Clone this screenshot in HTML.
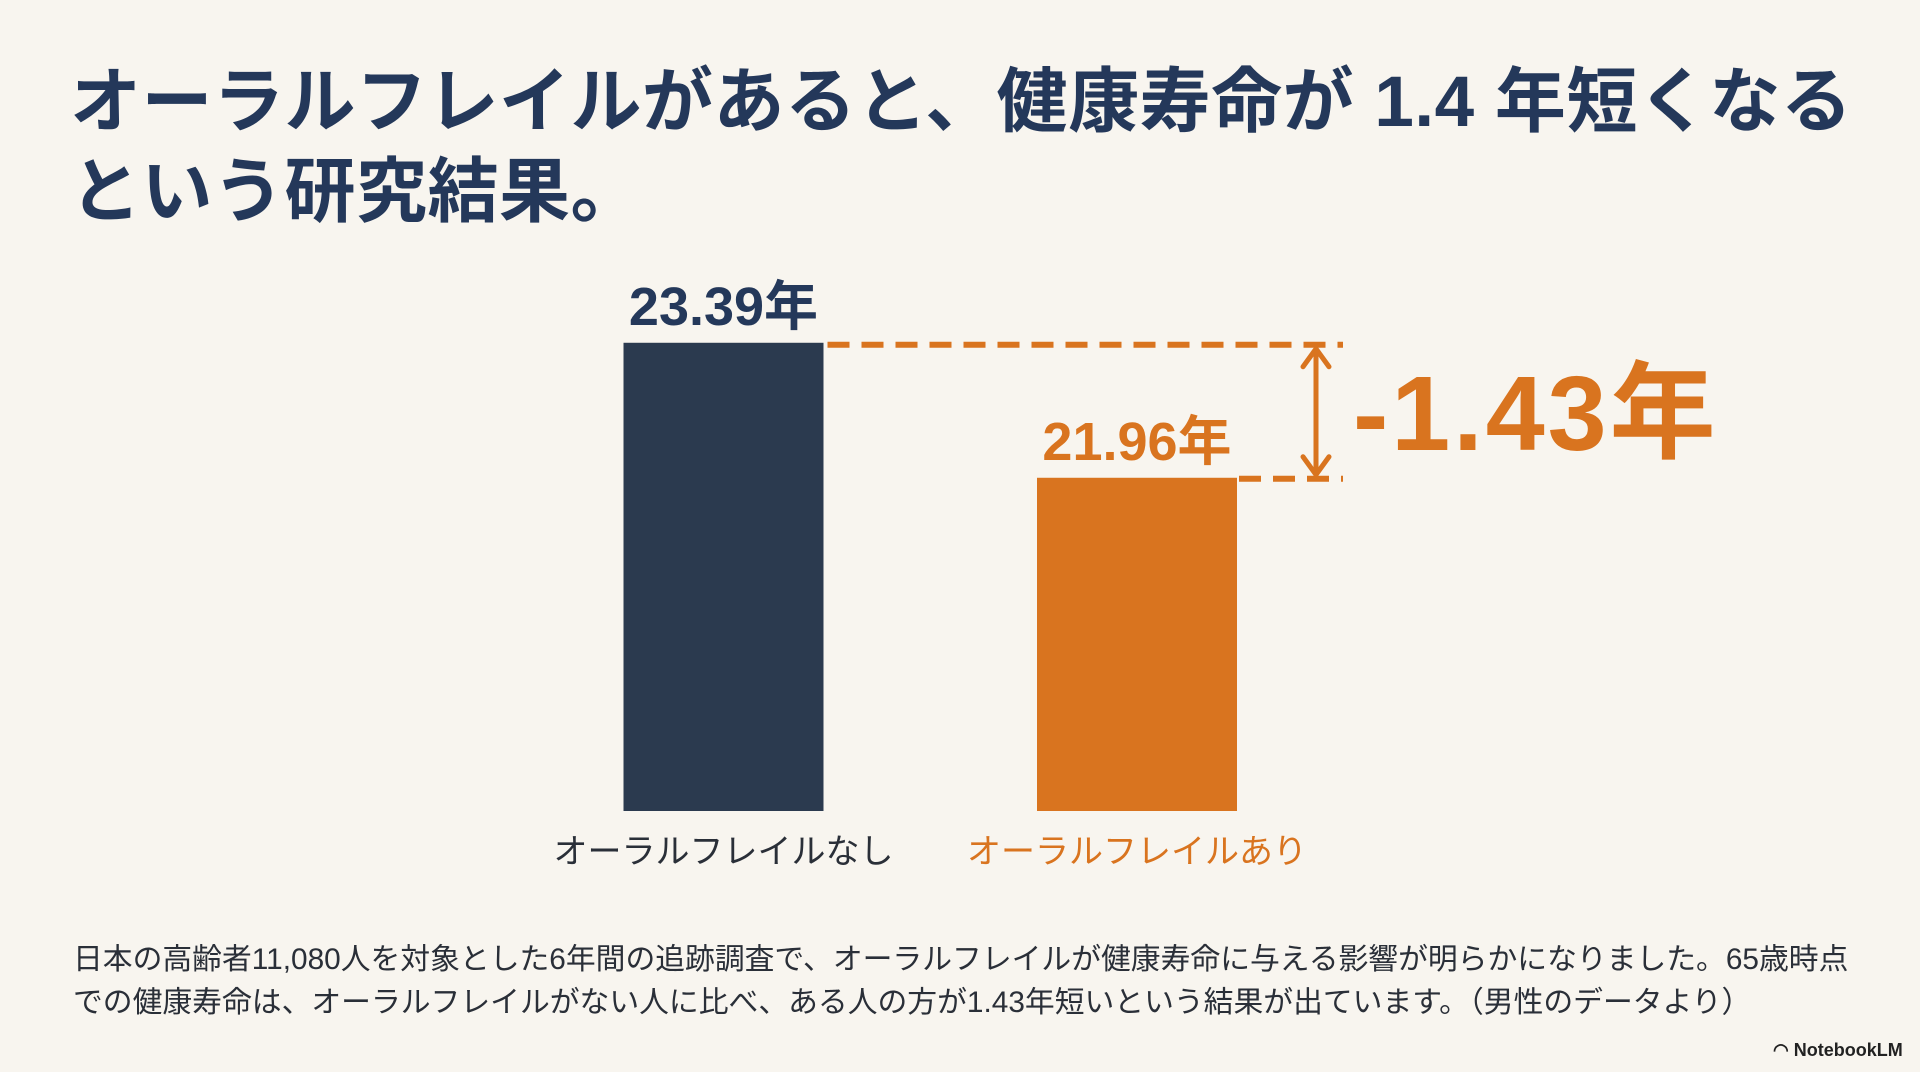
<!DOCTYPE html>
<html><head><meta charset="utf-8"><style>
html,body{margin:0;padding:0}
body{width:1920px;height:1072px;background:#f8f5ef;overflow:hidden;position:relative;font-family:"Liberation Sans","Noto Sans CJK JP",sans-serif}
.t{position:absolute;white-space:nowrap}
</style></head><body>
<div class="t" style="left:70px;top:58px;font-size:71px;line-height:90px;font-weight:bold;color:#24385a;letter-spacing:0.5px;">オーラルフレイルがあると、健康寿命が 1.4 年短くなる<br>という研究結果。</div>
<svg id="chart" width="1920" height="1072" style="position:absolute;left:0;top:0" font-family="Liberation Sans, Noto Sans CJK JP, sans-serif"></svg>
<div class="t" style="left:73px;top:938px;font-size:29.8px;line-height:43px;color:#2a2f38;">日本の高齢者11,080人を対象とした6年間の追跡調査で、オーラルフレイルが健康寿命に与える影響が明らかになりました。65歳時点<br>での健康寿命は、オーラルフレイルがない人に比べ、ある人の方が1.43年短いという結果が出ています。（男性のデータより）</div>
<div class="t" style="left:1773px;top:1040px;font-size:18px;font-weight:bold;color:#222;"><span>◠</span> NotebookLM</div>
<script>
const categories = ["オーラルフレイルなし", "オーラルフレイルあり"];
const values = [23.39, 21.96];
const valueLabels = ["23.39年", "21.96年"];
const diffLabel = "-1.43年";
const colors = ["#2b3a4f", "#d9741f"];
const svg = document.getElementById('chart');
const NS = 'http://www.w3.org/2000/svg';
const base = 811, minV = 18.43, pxPer = 94.4;
function y(v){ return base - (v - minV) * pxPer; }
const centers = [723.5, 1137];
const bw = 200;
function mk(tag, attrs){ const e = document.createElementNS(NS, tag); for (const k in attrs) e.setAttribute(k, attrs[k]); svg.appendChild(e); return e; }
values.forEach((v, i) => {
  const r = mk('rect', {x: centers[i]-bw/2, y: y(v), width: bw, height: base - y(v), fill: colors[i]});
  
  
  const t = mk('text', {x: centers[i], y: y(v) - 18, 'text-anchor': 'middle', 'font-size': 54, 'font-weight': 'bold', fill: i === 0 ? '#24385a' : colors[i]});
  t.textContent = valueLabels[i];
  
  
  const c = mk('text', {x: centers[i], y: 863, 'text-anchor': 'middle', 'font-size': 34, fill: i === 0 ? '#2a2f38' : colors[i]});
  c.textContent = categories[i];
  
  
});
const y0 = y(values[0]) + 2, y1 = y(values[1]) + 1;
const ax = 1316, xEnd = 1343;
const d1 = mk('line', {x1: centers[0]+bw/2+4, y1: y0, x2: xEnd, y2: y0, stroke: '#d9741f', 'stroke-width': 6, 'stroke-dasharray': '22 12'});


const d2 = mk('line', {x1: centers[1]+bw/2+2, y1: y1, x2: xEnd, y2: y1, stroke: '#d9741f', 'stroke-width': 6, 'stroke-dasharray': '22 12'});


const ar = mk('path', {d: `M${ax} ${y0+4} L${ax} ${y1-4} M${ax-13} ${y0+22} L${ax} ${y0+4} L${ax+13} ${y0+22} M${ax-13} ${y1-22} L${ax} ${y1-4} L${ax+13} ${y1-22}`, stroke: '#d9741f', 'stroke-width': 5, fill: 'none', 'stroke-linecap': 'round'});


const dl = mk('text', {x: 1353, y: (y0+y1)/2 + 38, 'font-size': 106, 'font-weight': 'bold', 'letter-spacing': 3, fill: '#d9741f'});
dl.textContent = diffLabel;


</script>
</body></html>
